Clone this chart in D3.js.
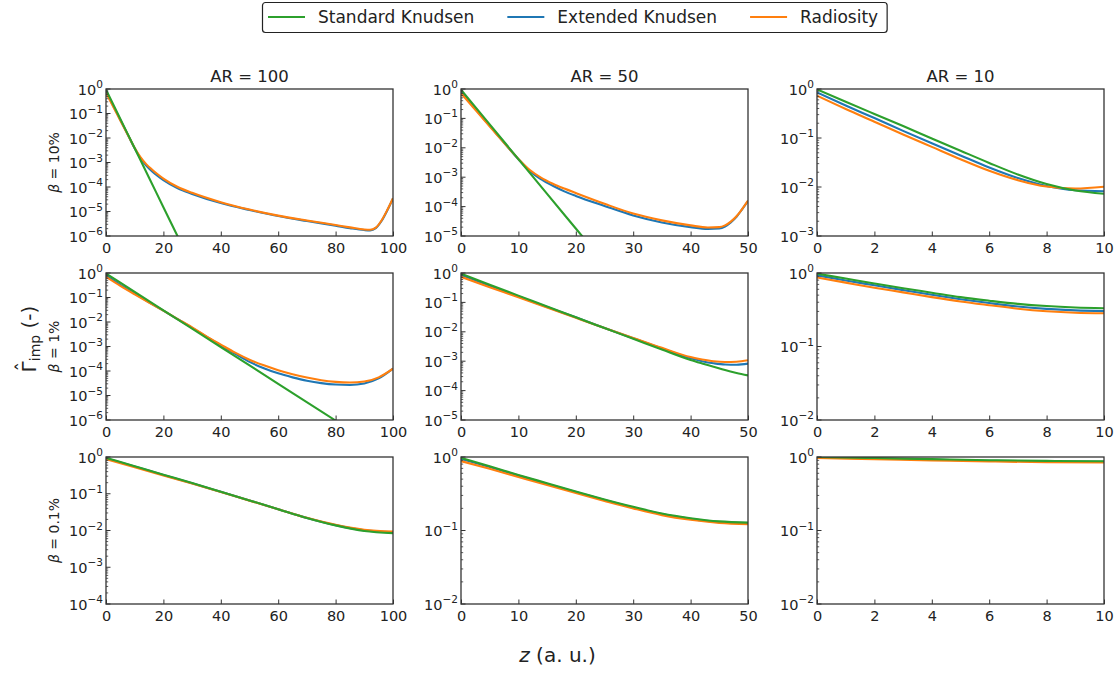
<!DOCTYPE html>
<html>
<head>
<meta charset="utf-8">
<script src="https://cdn.jsdelivr.net/npm/d3@7"></script>
<style>
  body { margin: 0; background: #fff; }
  svg { display: block; font-family: "DejaVu Sans", sans-serif; }
</style>
</head>
<body>
<svg id="chart" width="1115" height="675"></svg>
<script>
// ---- grid definition -------------------------------------------------------
const arValues = [100, 50, 10];                 // columns
const betaLabels = ["10%", "1%", "0.1%"];       // rows
const seriesNames = ["Standard Knudsen", "Extended Knudsen", "Radiosity"];
const seriesColors = ["#2ca02c", "#1f77b4", "#ff7f0e"];
const xMaxByCol = [100, 50, 10];
const xTicksByCol = [[0, 20, 40, 60, 80, 100], [0, 10, 20, 30, 40, 50], [0, 2, 4, 6, 8, 10]];
const yMinExpByRow = [[-6, -5, -3], [-6, -5, -2], [-4, -2, -2]];

// ---- beta = 10 % -----------------------------------------------------------
const z_b10_ar100 = [0, 2, 4, 6, 8, 10, 12, 14, 16, 18, 20, 25, 30, 40, 50, 60, 70, 80, 85, 90, 92, 94, 96, 98, 100];
const radiosity_b10_ar100 = [0.70, 0.25, 0.088, 0.031, 0.011, 3.9e-3, 1.65e-3, 8.6e-4, 5.2e-4, 3.3e-4, 2.2e-4, 1.0e-4, 5.8e-5, 2.4e-5, 1.2e-5, 6.8e-6, 4.3e-6, 2.8e-6, 2.25e-6, 1.85e-6, 1.8e-6, 2.2e-6, 4.3e-6, 1.15e-5, 3.5e-5];
const extended_b10_ar100 = [0.80, 0.27, 0.092, 0.032, 0.011, 3.8e-3, 1.5e-3, 7.5e-4, 4.4e-4, 2.8e-4, 1.9e-4, 8.8e-5, 5.2e-5, 2.2e-5, 1.15e-5, 6.5e-6, 4.1e-6, 2.65e-6, 2.1e-6, 1.75e-6, 1.7e-6, 2.1e-6, 4.1e-6, 1.1e-5, 3.4e-5];
const zStd_b10_ar100 = [0, 5, 10, 15, 20, 25, 30];
const standard_b10_ar100 = [0.95, 0.060, 3.8e-3, 2.4e-4, 1.5e-5, 9.5e-7, 6.0e-8];

const z_b10_ar50 = [0, 2, 4, 6, 8, 10, 12, 14, 16, 18, 20, 25, 30, 35, 40, 43, 45, 46, 47, 48, 49, 50];
const radiosity_b10_ar50 = [0.72, 0.255, 0.09, 0.032, 0.0114, 4.2e-3, 1.75e-3, 9.5e-4, 6.0e-4, 4.1e-4, 2.9e-4, 1.25e-4, 5.8e-5, 3.4e-5, 2.3e-5, 1.95e-5, 2.0e-5, 2.3e-5, 3.1e-5, 4.7e-5, 8.4e-5, 1.6e-4];
const extended_b10_ar50 = [0.85, 0.28, 0.095, 0.033, 0.0115, 4.1e-3, 1.6e-3, 8.4e-4, 5.1e-4, 3.3e-4, 2.3e-4, 1.05e-4, 5.0e-5, 2.9e-5, 2.0e-5, 1.75e-5, 1.8e-5, 2.1e-5, 2.9e-5, 4.5e-5, 8.2e-5, 1.55e-4];
const zStd_b10_ar50 = [0, 5, 10, 15, 20, 25];
const standard_b10_ar50 = [0.95, 0.063, 4.1e-3, 2.7e-4, 1.8e-5, 1.2e-6];

const z_b10_ar10 = [0, 1, 2, 3, 4, 5, 6, 7, 8, 9, 10];
const radiosity_b10_ar10 = [0.73, 0.39, 0.215, 0.118, 0.066, 0.037, 0.0215, 0.0138, 0.0102, 0.0093, 0.0101];
const extended_b10_ar10 = [0.85, 0.46, 0.255, 0.14, 0.078, 0.044, 0.025, 0.0152, 0.0105, 0.0086, 0.0082];
const standard_b10_ar10 = [0.98, 0.55, 0.31, 0.175, 0.098, 0.055, 0.031, 0.018, 0.0115, 0.0085, 0.0073];

// ---- beta = 1 % ------------------------------------------------------------
const z_b1_ar100 = [0, 5, 10, 15, 20, 25, 30, 35, 40, 45, 50, 55, 60, 65, 70, 75, 80, 85, 90, 95, 100];
const radiosity_b1_ar100 = [0.70, 0.30, 0.135, 0.062, 0.029, 0.0132, 6.0e-3, 2.6e-3, 1.2e-3, 5.6e-4, 2.9e-4, 1.7e-4, 1.08e-4, 7.4e-5, 5.4e-5, 4.2e-5, 3.6e-5, 3.4e-5, 3.7e-5, 5.5e-5, 1.25e-4];
const extended_b1_ar100 = [0.80, 0.33, 0.145, 0.064, 0.029, 0.013, 5.8e-3, 2.5e-3, 1.1e-3, 5.0e-4, 2.35e-4, 1.3e-4, 8.0e-5, 5.5e-5, 4.0e-5, 3.2e-5, 2.8e-5, 2.7e-5, 3.1e-5, 5.0e-5, 1.25e-4];
const zStd_b1_ar100 = [0, 20, 40, 60, 80, 90];
const standard_b1_ar100 = [0.95, 0.030, 9.5e-4, 3.0e-5, 9.5e-7, 1.7e-7];

const z_b1_ar50 = [0, 5, 10, 15, 20, 25, 30, 35, 40, 42, 44, 46, 48, 50];
const radiosity_b1_ar50 = [0.74, 0.33, 0.15, 0.067, 0.030, 0.0135, 6.2e-3, 2.85e-3, 1.38e-3, 1.15e-3, 1.0e-3, 9.4e-4, 9.6e-4, 1.08e-3];
const extended_b1_ar50 = [0.86, 0.37, 0.16, 0.07, 0.031, 0.0135, 6.0e-3, 2.7e-3, 1.25e-3, 1.0e-3, 8.5e-4, 7.7e-4, 7.6e-4, 8.3e-4];
const standard_b1_ar50 = [0.95, 0.40, 0.17, 0.073, 0.031, 0.0134, 5.8e-3, 2.5e-3, 1.1e-3, 8.4e-4, 6.5e-4, 5.0e-4, 4.0e-4, 3.3e-4];

const z_b1_ar10 = [0, 1, 2, 3, 4, 5, 6, 7, 8, 9, 10];
const radiosity_b1_ar10 = [0.87, 0.74, 0.63, 0.545, 0.47, 0.41, 0.365, 0.327, 0.302, 0.288, 0.283];
const extended_b1_ar10 = [0.93, 0.79, 0.68, 0.585, 0.505, 0.44, 0.39, 0.35, 0.325, 0.31, 0.303];
const standard_b1_ar10 = [0.98, 0.84, 0.72, 0.62, 0.54, 0.47, 0.42, 0.38, 0.355, 0.34, 0.332];

// ---- beta = 0.1 % ----------------------------------------------------------
const z_b01_ar100 = [0, 10, 20, 30, 40, 50, 60, 70, 80, 90, 100];
const radiosity_b01_ar100 = [0.87, 0.53, 0.315, 0.19, 0.112, 0.065, 0.038, 0.0222, 0.0143, 0.0105, 0.0094];
const extended_b01_ar100 = [0.92, 0.55, 0.325, 0.193, 0.113, 0.066, 0.038, 0.022, 0.014, 0.0101, 0.0089];
const standard_b01_ar100 = [0.95, 0.56, 0.33, 0.195, 0.114, 0.066, 0.038, 0.022, 0.0138, 0.0097, 0.0085];

const z_b01_ar50 = [0, 5, 10, 15, 20, 25, 30, 35, 40, 45, 50];
const radiosity_b01_ar50 = [0.88, 0.69, 0.535, 0.415, 0.323, 0.253, 0.2, 0.162, 0.14, 0.127, 0.122];
const extended_b01_ar50 = [0.94, 0.73, 0.56, 0.43, 0.335, 0.26, 0.206, 0.167, 0.144, 0.13, 0.126];
const standard_b01_ar50 = [0.97, 0.75, 0.57, 0.44, 0.34, 0.265, 0.21, 0.17, 0.147, 0.133, 0.128];

const z_b01_ar10 = [0, 2, 4, 6, 8, 10];
const radiosity_b01_ar10 = [0.97, 0.935, 0.9, 0.87, 0.85, 0.84];
const extended_b01_ar10 = [0.99, 0.955, 0.92, 0.89, 0.87, 0.86];
const standard_b01_ar10 = [1.0, 0.97, 0.935, 0.905, 0.885, 0.875];

// ---- panel table built from the arrays above -------------------------------
const panels = [
  { row: 0, col: 0, z: z_b10_ar100, ext: extended_b10_ar100, rad: radiosity_b10_ar100, zStd: zStd_b10_ar100, std: standard_b10_ar100 },
  { row: 0, col: 1, z: z_b10_ar50, ext: extended_b10_ar50, rad: radiosity_b10_ar50, zStd: zStd_b10_ar50, std: standard_b10_ar50 },
  { row: 0, col: 2, z: z_b10_ar10, ext: extended_b10_ar10, rad: radiosity_b10_ar10, zStd: z_b10_ar10, std: standard_b10_ar10 },
  { row: 1, col: 0, z: z_b1_ar100, ext: extended_b1_ar100, rad: radiosity_b1_ar100, zStd: zStd_b1_ar100, std: standard_b1_ar100 },
  { row: 1, col: 1, z: z_b1_ar50, ext: extended_b1_ar50, rad: radiosity_b1_ar50, zStd: z_b1_ar50, std: standard_b1_ar50 },
  { row: 1, col: 2, z: z_b1_ar10, ext: extended_b1_ar10, rad: radiosity_b1_ar10, zStd: z_b1_ar10, std: standard_b1_ar10 },
  { row: 2, col: 0, z: z_b01_ar100, ext: extended_b01_ar100, rad: radiosity_b01_ar100, zStd: z_b01_ar100, std: standard_b01_ar100 },
  { row: 2, col: 1, z: z_b01_ar50, ext: extended_b01_ar50, rad: radiosity_b01_ar50, zStd: z_b01_ar50, std: standard_b01_ar50 },
  { row: 2, col: 2, z: z_b01_ar10, ext: extended_b01_ar10, rad: radiosity_b01_ar10, zStd: z_b01_ar10, std: standard_b01_ar10 }
];

// ---- layout ----------------------------------------------------------------
const colX = [106, 461, 817];
const rowY = [89, 273, 457];
const PW = 287, PH = 147;
const axisColor = "#333";
const textColor = "#222";

const svg = d3.select("#chart");
const zip = (xs, ys) => xs.map((v, i) => [v, ys[i]]);

panels.forEach((p, i) => {
  const x0 = colX[p.col], y0 = rowY[p.row];
  const x = d3.scaleLinear().domain([0, xMaxByCol[p.col]]).range([x0, x0 + PW]);
  const minExp = yMinExpByRow[p.row][p.col];
  const y = d3.scaleLog().domain([Math.pow(10, minExp), 1]).range([y0 + PH, y0]);
  const g = svg.append("g");

  g.append("clipPath").attr("id", "clip" + i)
    .append("rect").attr("x", x0).attr("y", y0).attr("width", PW).attr("height", PH);

  const line = d3.line().x(d => x(d[0])).y(d => y(d[1])).curve(d3.curveMonotoneX);
  const curves = [
    { data: zip(p.z, p.ext), color: seriesColors[1] },
    { data: zip(p.z, p.rad), color: seriesColors[2] },
    { data: zip(p.zStd, p.std), color: seriesColors[0] }
  ];
  const lg = g.append("g").attr("clip-path", `url(#clip${i})`);
  curves.forEach(c => {
    lg.append("path").attr("d", line(c.data))
      .attr("fill", "none").attr("stroke", c.color)
      .attr("stroke-width", 2.1).attr("stroke-linejoin", "round");
  });

  // x axis with inward ticks
  const xa = g.append("g").attr("transform", `translate(0,${y0 + PH})`)
    .call(d3.axisBottom(x).tickValues(xTicksByCol[p.col])
      .tickSizeInner(-4.5).tickSizeOuter(0).tickPadding(6.5).tickFormat(d3.format("d")));
  xa.select(".domain").remove();
  xa.selectAll(".tick line").attr("stroke", axisColor).attr("stroke-width", 1);
  xa.selectAll(".tick text").attr("font-size", 14.5).attr("fill", textColor)
    .attr("font-family", "DejaVu Sans, sans-serif");

  // y axis: log decades with minor ticks, drawn inward
  const majors = d3.range(minExp, 1).map(k => Math.pow(10, k));
  const minors = [];
  for (let k = minExp; k < 0; k++) for (let m = 2; m <= 9; m++) minors.push(m * Math.pow(10, k));
  g.selectAll(null).data(minors).enter().append("line")
    .attr("x1", x0).attr("x2", x0 + 2.2)
    .attr("y1", d => y(d)).attr("y2", d => y(d))
    .attr("stroke", axisColor).attr("stroke-width", 0.8);
  g.selectAll(null).data(majors).enter().append("line")
    .attr("x1", x0).attr("x2", x0 + 4.5)
    .attr("y1", d => y(d)).attr("y2", d => y(d))
    .attr("stroke", axisColor).attr("stroke-width", 1);
  const labels = g.selectAll(null).data(d3.range(minExp, 1)).enter().append("text")
    .attr("x", x0 - 3).attr("y", k => y(Math.pow(10, k)) + 5.5)
    .attr("text-anchor", "end").attr("fill", textColor).attr("font-size", 14.5);
  labels.append("tspan").text("10");
  labels.append("tspan").attr("font-size", 10.5).attr("dy", -6.5)
    .text(k => (k < 0 ? "\u2212" + (-k) : String(k)));

  // frame
  g.append("rect").attr("x", x0).attr("y", y0).attr("width", PW).attr("height", PH)
    .attr("fill", "none").attr("stroke", axisColor).attr("stroke-width", 1.3);
});

// column titles
arValues.forEach((ar, c) => {
  svg.append("text").attr("x", colX[c] + PW / 2).attr("y", 81.5)
    .attr("text-anchor", "middle").attr("font-size", 16.5).attr("fill", textColor)
    .text(`AR = ${ar}`);
});

// row labels
betaLabels.forEach((b, r) => {
  const t = svg.append("text")
    .attr("transform", `translate(59,${rowY[r] + PH / 2}) rotate(-90)`)
    .attr("text-anchor", "middle").attr("font-size", 14).attr("fill", textColor);
  t.append("tspan").attr("font-style", "italic").text("\u03b2");
  t.append("tspan").text(` = ${b}`);
});

// shared y label: Gamma with a hat accent and "imp" subscript
const ylGroup = svg.append("g").attr("transform", "translate(35.5,339) rotate(-90)");
const yl = ylGroup.append("text")
  .attr("text-anchor", "middle").attr("font-size", 20).attr("fill", textColor);
yl.append("tspan").text("\u0393");
yl.append("tspan").attr("font-size", 14).attr("dy", 4).text("imp");
yl.append("tspan").attr("dy", -4).text(" (-)");
const gammaBox = yl.node().getExtentOfChar(0);
ylGroup.append("text")
  .attr("x", gammaBox.x + gammaBox.width / 2)
  .attr("y", gammaBox.y + 13)
  .attr("text-anchor", "middle").attr("font-size", 20).attr("fill", textColor)
  .text("\u02c6");

const xl = svg.append("text").attr("x", 557.5).attr("y", 662)
  .attr("text-anchor", "middle").attr("font-size", 20).attr("fill", textColor);
xl.append("tspan").attr("font-style", "italic").text("z");
xl.append("tspan").text(" (a. u.)");

// legend
const legend = svg.append("g");
const legendFont = 17;
let cursor = 268;
const legendY = 17;
seriesNames.forEach((name, i) => {
  legend.append("line").attr("x1", cursor).attr("x2", cursor + 37)
    .attr("y1", legendY).attr("y2", legendY)
    .attr("stroke", seriesColors[i]).attr("stroke-width", 2);
  cursor += 37 + 13;
  const t = legend.append("text").attr("x", cursor).attr("y", legendY + 6)
    .attr("font-size", legendFont).attr("fill", textColor).text(name);
  cursor += t.node().getComputedTextLength();
  if (i < seriesNames.length - 1) cursor += 33;
});
legend.insert("rect", ":first-child")
  .attr("x", 262.5).attr("y", 2.5).attr("width", cursor + 9 - 262.5).attr("height", 30)
  .attr("rx", 3).attr("ry", 3)
  .attr("fill", "#fff").attr("stroke", "#222").attr("stroke-width", 1.2);
</script>
</body>
</html>
